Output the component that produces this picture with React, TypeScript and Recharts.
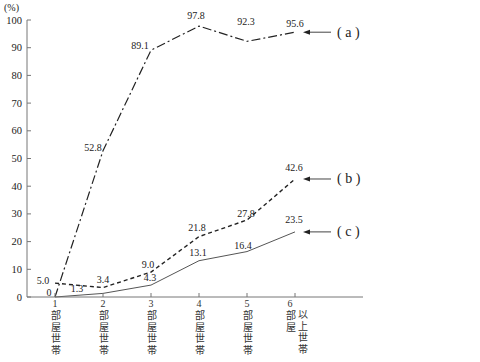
import React from 'react';
import { LineChart, Line, XAxis, YAxis, LabelList } from 'recharts';

// ** Data
const categories = ['1部屋世帯', '2部屋世帯', '3部屋世帯', '4部屋世帯', '5部屋世帯', '6部屋以上世帯'];
const seriesA = [0, 52.8, 89.1, 97.8, 92.3, 95.6];
const seriesB = [5.0, 3.4, 9.0, 21.8, 27.8, 42.6];
const seriesC = [0, 1.3, 4.3, 13.1, 16.4, 23.5];
const yTicks = [0, 10, 20, 30, 40, 50, 60, 70, 80, 90, 100];
const seriesNames = ['a', 'b', 'c'];

// label offsets [dx, dy] relative to each point
const offsetsA = [[-6, -5], [-10, -3], [-11, -5], [-3, -11], [-1, -20], [0, -9]];
const offsetsB = [[-12, -3], [0, -8], [-3, -8], [-2, -9], [-1, -6], [-1, -11]];
const offsetsC = [null, [-26, -5], [-1, -8], [-1, -8], [-4, -6], [-1, -12]];

const data = categories.map((name, i) => ({
  name,
  a: seriesA[i],
  b: seriesB[i],
  c: seriesC[i],
}));

const FONT = '"Liberation Serif", serif';
const CJK = '"Liberation Serif", "Noto Sans CJK JP", sans-serif';
const INK = '#222';

const fmt = (v: number) => (v === 0 ? '0' : v.toFixed(1));

const makeLabel = (offsets: (number[] | null)[], name: string) => (props: any) => {
  const { x, y, index, value } = props;
  const off = offsets[index];
  const last = index === offsets.length - 1;
  return (
    <g>
      {off && (
        <text
          x={x + off[0]}
          y={y + off[1] + 3.5}
          textAnchor="middle"
          fontSize={10}
          fontFamily={FONT}
          fill={INK}
        >
          {fmt(value)}
        </text>
      )}
      {last && (
        <g>
          <line x1={x + 12} y1={y} x2={x + 36} y2={y} stroke="#444" strokeWidth={1} />
          <path d={`M${x + 8},${y} L${x + 15},${y - 2.5} L${x + 15},${y + 2.5} Z`} fill={INK} />
          <text x={x + 42} y={y + 4.5} fontSize={14} fontFamily={FONT} fill={INK}>
            {`( ${name} )`}
          </text>
        </g>
      )}
    </g>
  );
};

const XTick = (props: any) => {
  const { x, y, payload } = props;
  const label: string = payload.value;
  // long labels wrap into a second vertical column
  const cols = label.length > 5 ? [label.slice(0, 3), label.slice(3)] : [label];
  const colX = cols.length > 1 ? [-5, 7] : [0];
  return (
    <g>
      <line x1={x} y1={y} x2={x} y2={y - 4} stroke="#777" />
      {cols.map((col, ci) => (
        <text
          key={ci}
          x={x + colX[ci]}
          y={y + 1 + ci * 11.5}
          fontSize={10}
          fontFamily={CJK}
          fill="#333"
          letterSpacing={1.5}
          style={{ writingMode: 'vertical-rl', textOrientation: 'upright' } as any}
        >
          {col}
        </text>
      ))}
    </g>
  );
};

const YTick = (props: any) => {
  const { x, y, payload } = props;
  return (
    <g>
      <line x1={x} y1={y} x2={x + 4} y2={y} stroke="#777" />
      <text x={x - 5} y={y + 3.5} textAnchor="end" fontSize={10.5} fontFamily={FONT} fill={INK}>
        {payload.value}
      </text>
    </g>
  );
};

const App: React.FC = () => {
  return (
    <div style={{ position: 'absolute', left: 0, top: 0, width: 480, height: 362, background: '#fff' }}>
      <svg style={{ position: 'absolute', left: 0, top: 0 }} width={40} height={16}>
        <text x={4} y={11} fontSize={10} fontFamily={FONT} fill={INK}>
          (%)
        </text>
      </svg>
      <LineChart width={480} height={362} data={data} margin={{ top: 20, right: 117, left: 0, bottom: 0 }}>
        <XAxis
          dataKey="name"
          scale="point"
          padding={{ left: 28, right: 68 }}
          height={65}
          tickSize={0}
          tickMargin={0}
          tickLine={false}
          tick={<XTick />}
          interval={0}
          stroke="#777"
        />
        <YAxis
          width={27}
          domain={[0, 100]}
          ticks={yTicks}
          tickSize={0}
          tickMargin={0}
          tickLine={false}
          tick={<YTick />}
          interval={0}
          stroke="#777"
        />
        <Line
          dataKey="a"
          stroke={INK}
          strokeWidth={1.2}
          strokeDasharray="9 3 2 3"
          dot={false}
          type="linear"
          isAnimationActive={false}
        >
          <LabelList dataKey="a" content={makeLabel(offsetsA, seriesNames[0])} />
        </Line>
        <Line
          dataKey="b"
          stroke={INK}
          strokeWidth={1.4}
          strokeDasharray="4 3"
          dot={false}
          type="linear"
          isAnimationActive={false}
        >
          <LabelList dataKey="b" content={makeLabel(offsetsB, seriesNames[1])} />
        </Line>
        <Line dataKey="c" stroke="#555" strokeWidth={1} dot={false} type="linear" isAnimationActive={false}>
          <LabelList dataKey="c" content={makeLabel(offsetsC, seriesNames[2])} />
        </Line>
      </LineChart>
    </div>
  );
};

export default App;
